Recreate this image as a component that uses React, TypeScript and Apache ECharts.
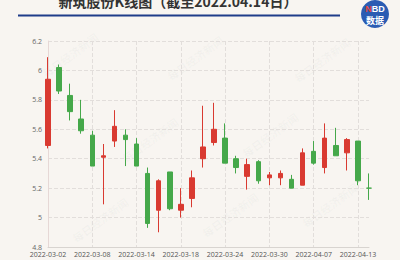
import React, { useEffect, useRef } from "react";
import * as echarts from "echarts";

const dates = [
  "2022-03-02", "2022-03-03", "2022-03-04", "2022-03-07", "2022-03-08", "2022-03-09",
  "2022-03-10", "2022-03-11", "2022-03-14", "2022-03-15", "2022-03-16", "2022-03-17",
  "2022-03-18", "2022-03-21", "2022-03-22", "2022-03-23", "2022-03-24", "2022-03-25",
  "2022-03-28", "2022-03-29", "2022-03-30", "2022-03-31", "2022-04-01", "2022-04-06",
  "2022-04-07", "2022-04-08", "2022-04-11", "2022-04-12", "2022-04-13", "2022-04-14",
];
const openVals = [5.49, 6.02, 5.83, 5.67, 5.56, 5.41, 5.52, 5.56, 5.50, 5.30, 5.05, 5.31, 5.05, 5.13, 5.40, 5.51, 5.54, 5.40, 5.28, 5.38, 5.27, 5.27, 5.26, 5.22, 5.45, 5.34, 5.49, 5.44, 5.52, 5.20];
const closeVals = [5.94, 5.86, 5.72, 5.59, 5.35, 5.42, 5.62, 5.53, 5.35, 4.96, 5.25, 5.06, 5.09, 5.27, 5.48, 5.60, 5.37, 5.34, 5.36, 5.25, 5.29, 5.30, 5.20, 5.44, 5.37, 5.54, 5.42, 5.53, 5.25, 5.20];
const lowVals = [5.47, 5.84, 5.66, 5.57, 5.35, 5.09, 5.48, 5.35, 5.35, 4.93, 4.90, 5.05, 5.00, 5.07, 5.34, 5.49, 5.37, 5.30, 5.19, 5.23, 5.22, 5.22, 5.20, 5.22, 5.36, 5.30, 5.42, 5.32, 5.22, 5.12];
const highVals = [6.09, 6.04, 5.91, 5.80, 5.59, 5.50, 5.73, 5.60, 5.54, 5.34, 5.26, 5.31, 5.20, 5.32, 5.76, 5.78, 5.64, 5.42, 5.40, 5.39, 5.31, 5.32, 5.29, 5.47, 5.52, 5.64, 5.61, 5.54, 5.52, 5.30];
const yTicks = { min: 4.8, max: 6.2, interval: 0.2 };
const titleText = "新筑股份K线图（截至2022.04.14日）";
const watermark = "每日经济新闻";

export default function App() {
  const ref = useRef<HTMLDivElement>(null);
  useEffect(() => {
    document.body.style.margin = "0";
    const chart = echarts.init(ref.current!, null, { renderer: "svg" });
    const data = dates.map((_, i) => [openVals[i], closeVals[i], lowVals[i], highVals[i]]);
    const wmPos = [
      [70, 55], [195, 58], [322, 60], [150, 140], [270, 135], [100, 220], [230, 215], [330, 205],
    ];
    chart.setOption({
      animation: false,
      backgroundColor: "#f8f5f1",
      grid: { left: 48, right: 31, top: 41, bottom: 13 },
      xAxis: {
        type: "category",
        data: dates,
        boundaryGap: false,
        axisLine: { lineStyle: { color: "#d8d4d0" } },
        axisTick: { show: false },
        axisLabel: { interval: 3, fontSize: 7, color: "#555", margin: 4, fontFamily: "Open Sans" },
        splitLine: { show: true, interval: 3, lineStyle: { color: "#e2dedb", type: "dashed", width: 1 } },
      },
      yAxis: {
        type: "value",
        min: yTicks.min,
        max: yTicks.max,
        interval: yTicks.interval,
        axisLine: { show: true, lineStyle: { color: "#e6d8d6" } },
        axisTick: { show: false },
        axisLabel: { fontSize: 7, color: "#666", margin: 6, fontFamily: "Open Sans" },
        splitLine: { lineStyle: { color: "#e2dedb", type: "dashed", width: 1 } },
      },
      series: [
        {
          type: "candlestick",
          data,
          barWidth: 5,
          itemStyle: {
            color: "#d93a31",
            color0: "#45a84a",
            borderColor: "#d93a31",
            borderColor0: "#45a84a",
            borderWidth: 1,
          },
        },
      ],
      graphic: [
        ...wmPos.map(([x, y]) => ({
          type: "text",
          x,
          y,
          rotation: Math.PI / 5,
          silent: true,
          z: 0,
          style: {
            text: watermark,
            font: "bold 11px 'Noto Sans CJK SC'",
            fill: "rgba(150,150,150,0.06)",
            textAlign: "center",
            textVerticalAlign: "middle",
          },
        })),
        {
          type: "text",
          x: 178,
          y: 1,
          style: {
            text: titleText,
            font: "bold 14px 'Noto Sans CJK SC'",
            fill: "#333",
            textAlign: "center",
            textVerticalAlign: "middle",
          },
        },
        {
          type: "line",
          shape: { x1: 18, y1: 15.5, x2: 340, y2: 15.5 },
          style: { stroke: "#1f3d8a", lineWidth: 2 },
        },
        {
          type: "circle",
          shape: { cx: 375, cy: 14, r: 14 },
          style: { fill: "#2b5cb3" },
        },
        {
          type: "text",
          x: 375,
          y: 9,
          style: {
            text: "{r|N}{w|BD}",
            textAlign: "center",
            textVerticalAlign: "middle",
            rich: {
              r: { fill: "#e8473c", font: "bold 9px Arial" },
              w: { fill: "#fff", font: "bold 9px Arial" },
            },
          },
        },
        {
          type: "text",
          x: 375,
          y: 20,
          style: {
            text: "数据",
            font: "bold 9px 'Noto Sans CJK SC'",
            fill: "#fff",
            textAlign: "center",
            textVerticalAlign: "middle",
          },
        },
      ],
    });
    return () => chart.dispose();
  }, []);
  return <div ref={ref} style={{ width: 400, height: 260 }} />;
}
